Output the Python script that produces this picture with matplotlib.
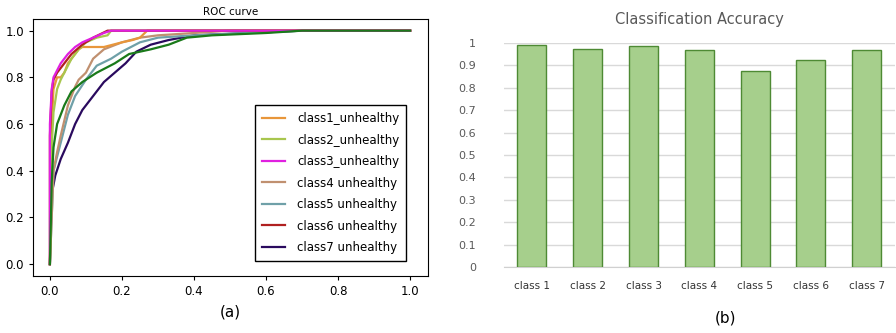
import matplotlib
matplotlib.use("Agg")
import matplotlib.pyplot as plt

# --- ROC curves (approximate) ---
class_names = ["class1_unhealthy", "class2_unhealthy", "class3_unhealthy",
               "class4 unhealthy", "class5 unhealthy", "class6 unhealthy",
               "class7 unhealthy"]

fpr_c1 = [0, 0.005, 0.01, 0.02, 0.03, 0.04, 0.05, 0.06, 0.07, 0.08, 0.09, 0.12,
          0.15, 0.2, 0.23, 0.25, 0.27, 1.0]
tpr_c1 = [0, 0.6, 0.75, 0.8, 0.8, 0.82, 0.86, 0.88, 0.9, 0.92, 0.93, 0.93,
          0.93, 0.95, 0.96, 0.97, 1.0, 1.0]

fpr_c2 = [0, 0.005, 0.01, 0.02, 0.03, 0.04, 0.06, 0.08, 0.1, 0.13, 0.16, 0.17, 1.0]
tpr_c2 = [0, 0.5, 0.65, 0.75, 0.79, 0.82, 0.88, 0.92, 0.95, 0.97, 0.98, 1.0, 1.0]

fpr_c3 = [0, 0.0, 0.005, 0.01, 0.02, 0.03, 0.04, 0.05, 0.07, 0.09, 0.12, 0.15,
          0.17, 1.0]
tpr_c3 = [0, 0.6, 0.75, 0.8, 0.83, 0.86, 0.88, 0.9, 0.93, 0.95, 0.97, 0.99,
          1.0, 1.0]

fpr_c4 = [0, 0.01, 0.02, 0.03, 0.05, 0.07, 0.08, 0.1, 0.12, 0.15, 0.2, 0.25,
          0.3, 0.4, 0.5, 1.0]
tpr_c4 = [0, 0.4, 0.48, 0.55, 0.68, 0.76, 0.79, 0.82, 0.88, 0.92, 0.95, 0.97,
          0.98, 0.99, 1.0, 1.0]

fpr_c5 = [0, 0.01, 0.02, 0.03, 0.05, 0.07, 0.1, 0.13, 0.17, 0.2, 0.25, 0.3,
          0.4, 0.55, 0.7, 1.0]
tpr_c5 = [0, 0.4, 0.46, 0.52, 0.64, 0.72, 0.79, 0.85, 0.88, 0.91, 0.95, 0.97,
          0.98, 0.99, 1.0, 1.0]

fpr_c6 = [0, 0.0, 0.005, 0.01, 0.02, 0.04, 0.06, 0.09, 0.12, 0.16, 1.0]
tpr_c6 = [0, 0.55, 0.74, 0.79, 0.82, 0.86, 0.9, 0.94, 0.97, 1.0, 1.0]

fpr_c7 = [0, 0.005, 0.015, 0.03, 0.05, 0.07, 0.09, 0.12, 0.15, 0.18, 0.21, 0.24,
          0.28, 0.33, 0.4, 0.55, 0.7, 1.0]
tpr_c7 = [0, 0.3, 0.38, 0.45, 0.52, 0.6, 0.66, 0.72, 0.78, 0.82, 0.86, 0.91,
          0.94, 0.96, 0.98, 0.99, 1.0, 1.0]

# extra dark green curve (no legend entry in the original)
fpr_extra = [0, 0.005, 0.01, 0.02, 0.04, 0.06, 0.09, 0.13, 0.18, 0.22, 0.28,
             0.33, 0.38, 0.45, 0.6, 0.7, 1.0]
tpr_extra = [0, 0.35, 0.5, 0.6, 0.68, 0.74, 0.78, 0.82, 0.86, 0.9, 0.92,
             0.94, 0.97, 0.98, 0.99, 1.0, 1.0]

roc_colors = ["#e8963a", "#a8c64e", "#e020e0", "#c09070", "#6fa0a8",
              "#b02020", "#2a0a5e"]

# --- accuracy bars ---
acc_labels = ["class 1", "class 2", "class 3", "class 4", "class 5", "class 6", "class 7"]
acc_values = [0.99, 0.975, 0.985, 0.967, 0.875, 0.923, 0.97]

fig = plt.figure(figsize=(8.96, 3.33), dpi=100)

# === panel (a) ===
ax1 = fig.add_axes([0.0368, 0.171, 0.441, 0.772])
curves = [(fpr_c1, tpr_c1), (fpr_c2, tpr_c2), (fpr_c3, tpr_c3), (fpr_c4, tpr_c4),
          (fpr_c5, tpr_c5), (fpr_c6, tpr_c6), (fpr_c7, tpr_c7)]
# draw order so that red hides under magenta, like the picture
order = [6, 4, 3, 0, 1, 5, 2]
handles = {}
for i in order:
    f, t = curves[i]
    h, = ax1.plot(f, t, color=roc_colors[i], lw=1.6, label=class_names[i])
    handles[i] = h
ax1.plot(fpr_extra, tpr_extra, color="#1a7a1a", lw=1.6)

ax1.set_xlim(-0.047, 1.05)
ax1.set_ylim(-0.051, 1.05)
ax1.set_xticks([0, 0.2, 0.4, 0.6, 0.8, 1.0])
ax1.set_yticks([0, 0.2, 0.4, 0.6, 0.8, 1.0])
ax1.tick_params(labelsize=8.5, length=3)
ax1.set_title("ROC curve", fontsize=7.5, pad=3)
leg = ax1.legend([handles[i] for i in range(7)], class_names, loc="lower right",
                 fontsize=8.5, labelspacing=0.72, handlelength=2.0,
                 borderpad=0.6, handletextpad=1.0,
                 fancybox=False, framealpha=1, edgecolor="black",
                 bbox_to_anchor=(0.96, 0.035))
leg.get_frame().set_linewidth(1.0)
fig.text(230 / 896, 1 - 312 / 333, "(a)", fontsize=11, ha="center", va="center")

# === panel (b) ===
ax2 = fig.add_axes([0.5625, 0.198, 0.436, 0.673])
x = range(len(acc_values))
ax2.bar(x, acc_values, width=0.52, color="#a6cf8c", edgecolor="#4e8a34",
        linewidth=1.0, zorder=3)
ax2.set_xlim(-0.5, 6.5)
ax2.set_ylim(0, 1.0)
ax2.set_yticks([0, 0.1, 0.2, 0.3, 0.4, 0.5, 0.6, 0.7, 0.8, 0.9, 1.0])
ax2.set_yticklabels(["0", "0.1", "0.2", "0.3", "0.4", "0.5", "0.6", "0.7",
                     "0.8", "0.9", "1"])
ax2.set_xticks(list(x))
ax2.set_xticklabels(acc_labels)
ax2.grid(axis="y", color="#d9d9d9", lw=1.0, zorder=0)
for s in ["top", "right", "left"]:
    ax2.spines[s].set_visible(False)
ax2.spines["bottom"].set_color("#d0d0d0")
ax2.tick_params(axis="y", length=0, labelsize=8, labelcolor="#595959", pad=20)
ax2.tick_params(axis="x", length=0, labelsize=7.5, labelcolor="#333333", pad=10)
ax2.set_title("Classification Accuracy", fontsize=10.5, color="#595959", pad=14)
fig.text(725 / 896, 1 - 318 / 333, "(b)", fontsize=11, ha="center", va="center")

fig.savefig("out.png", dpi=100)
